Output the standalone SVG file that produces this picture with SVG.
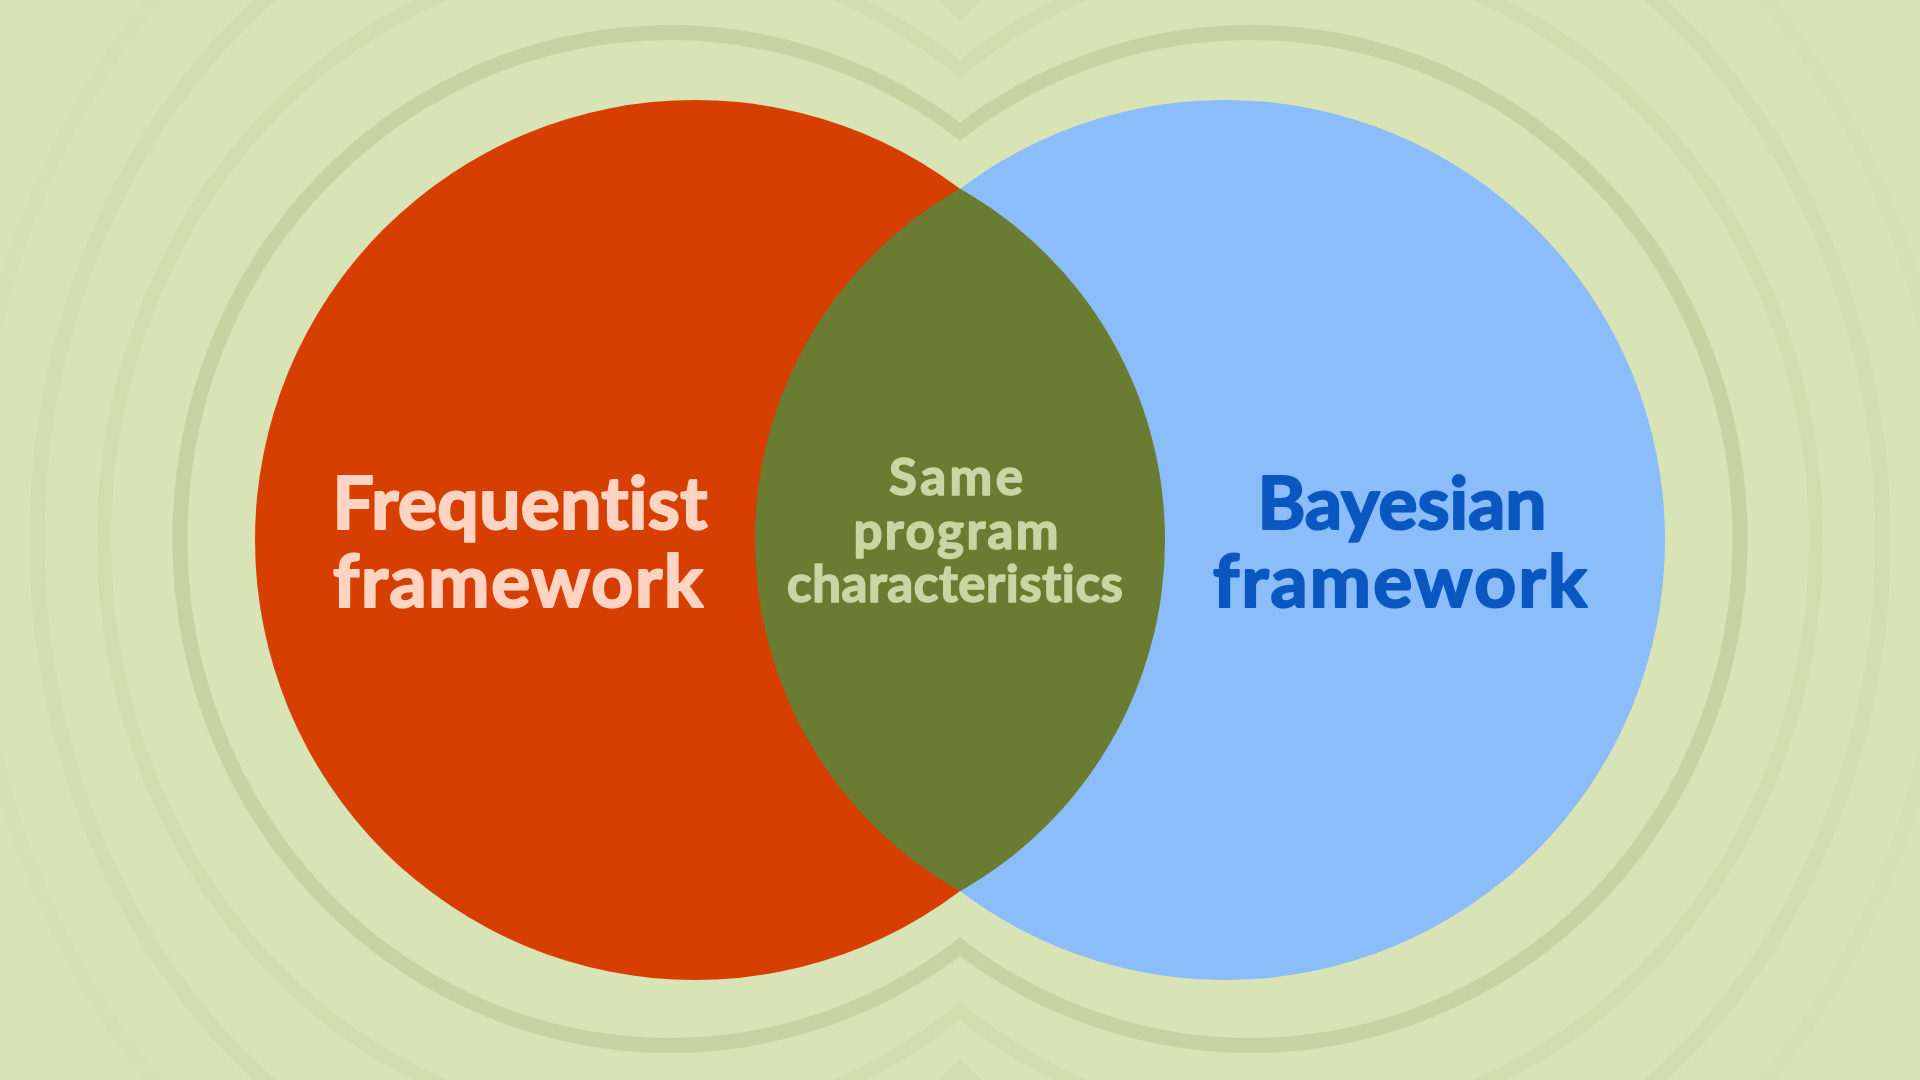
<svg xmlns="http://www.w3.org/2000/svg" width="1920" height="1080" viewBox="0 0 1920 1080">
  <style>
    .ring { fill: none; }
    .label { font-family: Lato, "Noto Sans", "Liberation Sans", sans-serif; font-weight: 700; text-anchor: middle; font-variant-ligatures: none; stroke-linejoin: round; }
    .big { font-size: 73px; stroke-width: 2.2px; }
    .mid { font-size: 51px; stroke-width: 1.6px; }
    .red-t { fill: #FFD4C2; stroke: #FFD4C2; }
    .blue-t { fill: #0B57C2; stroke: #0B57C2; }
    .green-t { fill: #C8D6A3; stroke: #C8D6A3; }
  </style>
  <rect id="background" x="0" y="0" width="1920" height="1080" fill="#D8E3B6"/>
  <g id="rings">
    <path class="ring" stroke="#D5E0B3" stroke-width="14" d="M 960 -69.9 A 620 760 0 1 0 960 1149.9 A 620 760 0 1 0 960 -69.9 Z"/>
    <path class="ring" stroke="#D2DEAF" stroke-width="15" d="M 960 10 A 570 675 0 1 0 960 1070 A 570 675 0 1 0 960 10 Z"/>
    <path class="ring" stroke="#D1DDAD" stroke-width="14" d="M 960 69.1 A 536 587 0 1 0 960 1010.9 A 536 587 0 1 0 960 69.1 Z"/>
    <path class="ring" stroke="#C5D3A1" stroke-width="15" d="M 960 131.4 A 489.5 506.5 0 1 0 960 946.6 A 489.5 506.5 0 1 0 960 131.4 Z"/>
  </g>
  <g id="node-frequentist">
    <circle cx="695" cy="540" r="440" fill="#D63F00"/>
  </g>
  <g id="node-bayesian">
    <circle cx="1225" cy="540" r="440" fill="#8ABDF9"/>
  </g>
  <g id="node-overlap">
    <path d="M 960 188.75 A 403.4 403.4 0 0 0 960 891.25 A 403.4 403.4 0 0 0 960 188.75 Z" fill="#697C32"/>
  </g>
  <g id="labels">
    <text class="label big red-t" x="520" y="529" textLength="375">Frequentist</text>
    <text class="label big red-t" x="518" y="607" textLength="370">framework</text>
    <text class="label big blue-t" x="1402" y="529" textLength="289">Bayesian</text>
    <text class="label big blue-t" x="1400" y="607" textLength="374">framework</text>
    <text class="label mid green-t" x="956" y="495" textLength="134">Same</text>
    <text class="label mid green-t" x="956" y="549" textLength="205">program</text>
    <text class="label mid green-t" x="955" y="602" textLength="336">characteristics</text>
  </g>
</svg>
